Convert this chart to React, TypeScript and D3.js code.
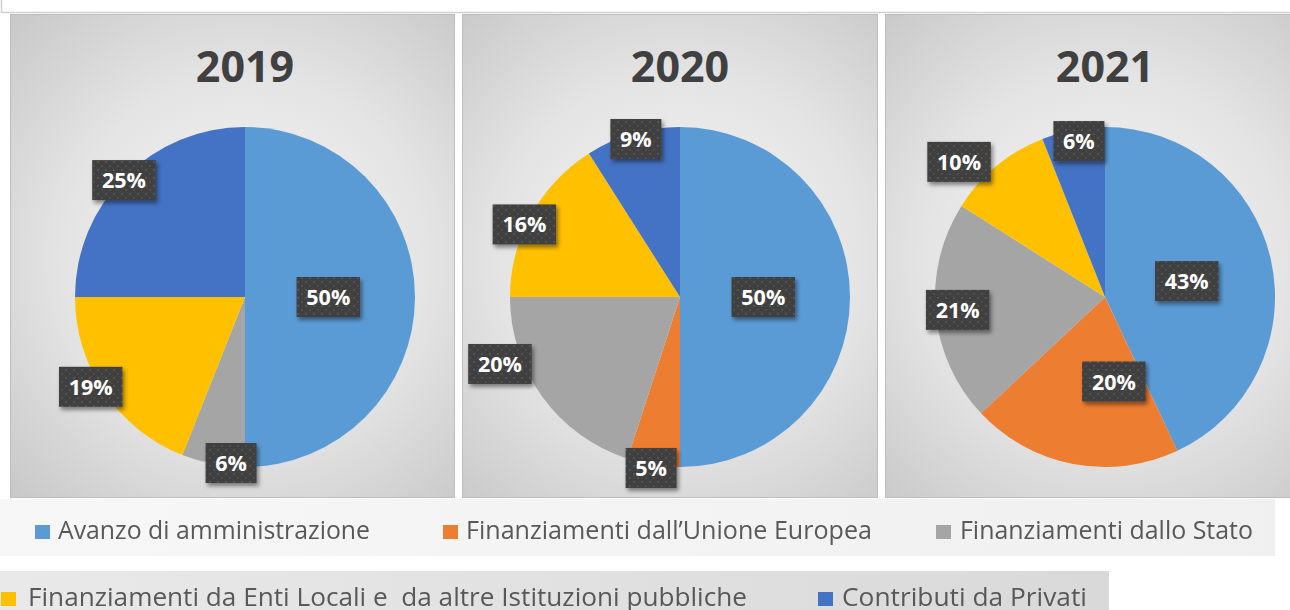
import React from "react";
import * as d3 from "d3";

const CATEGORIES = [
  "Avanzo di amministrazione",
  "Finanziamenti dall’Unione Europea",
  "Finanziamenti dallo Stato",
  "Finanziamenti da Enti Locali e  da altre Istituzioni pubbliche",
  "Contributi da Privati",
];
const COLORS = ["#5B9BD5", "#ED7D31", "#A5A5A5", "#FFC000", "#4472C4"];
const YEARS = ["2019", "2020", "2021"];
const VALUES_2019 = [50, 0, 6, 19, 25];
const VALUES_2020 = [50, 5, 20, 16, 9];
const VALUES_2021 = [43, 20, 21, 10, 6];
const SERIES = [VALUES_2019, VALUES_2020, VALUES_2021];

// layout: [radius factor, angle shift in degrees] for each data label
const LABEL_LAYOUT: [number, number][][] = [
  [[0.49, 0], [1, 0], [0.98, -6], [1.05, 4], [0.99, -1]],
  [[0.49, 0], [1.02, 0.6], [1.13, 15.6], [1.01, -3.8], [0.965, 0.6]],
  [[0.49, 1.6], [0.5, -16.8], [0.87, 0.4], [1.17, -7.6], [0.93, 1.3]],
];

const W = 1290;
const H = 610;
const PANEL_Y = 14;
const PANEL_H = 483;
const PANELS = [
  { x: 10, w: 444, cx: 245 },
  { x: 462, w: 415, cx: 680 },
  { x: 885, w: 410, cx: 1105 },
];
const CY = 297;
const R = 170;

const LEGEND_ROWS = [
  {
    y: 499,
    h: 57,
    w: 1275,
    baseline: 539,
    items: [
      { c: 0, x: 35, tx: 58, tw: 312 },
      { c: 1, x: 443, tx: 466, tw: 406 },
      { c: 2, x: 936, tx: 960, tw: 293 },
    ],
  },
  {
    y: 571,
    h: 45,
    w: 1109,
    baseline: 606,
    items: [
      { c: 3, x: 1, tx: 28, tw: 719 },
      { c: 4, x: 818, tx: 842, tw: 245 },
    ],
  },
];

export default function App() {
  const pie = d3
    .pie<number>()
    .sort(null)
    .value((d) => d)
    .startAngle(0)
    .endAngle(2 * Math.PI);
  const arc = d3.arc<d3.PieArcDatum<number>>().innerRadius(0).outerRadius(R);

  return (
    <div style={{ position: "fixed", left: 0, top: 0, width: W, height: H, background: "#fff" }}>
      <svg width={W} height={H} style={{ display: "block" }}>
        <defs>
          {PANELS.map((p, i) => (
            <radialGradient
              key={i}
              id={`bg${i}`}
              gradientUnits="userSpaceOnUse"
              cx={p.cx}
              cy={CY - 40}
              r={330}
            >
              <stop offset="0" stopColor="#f6f6f6" />
              <stop offset="0.55" stopColor="#e4e4e4" />
              <stop offset="1" stopColor="#c9c9c9" />
            </radialGradient>
          ))}
          <linearGradient id="leg1" x1="0" x2="1" y1="0" y2="0">
            <stop offset="0" stopColor="#f7f7f7" />
            <stop offset="1" stopColor="#f0f0f0" />
          </linearGradient>
          <linearGradient id="leg2" x1="0" x2="1" y1="0" y2="0">
            <stop offset="0" stopColor="#e9e9e9" />
            <stop offset="1" stopColor="#d9d9d9" />
          </linearGradient>
          <pattern id="dots" width="8" height="8" patternUnits="userSpaceOnUse">
            <rect width="8" height="8" fill="#404040" />
            <circle cx="2" cy="2" r="0.9" fill="#5c5c5c" />
            <circle cx="6" cy="6" r="0.9" fill="#555" />
          </pattern>
          <filter id="shadow" x="-30%" y="-30%" width="160%" height="170%">
            <feDropShadow dx="2" dy="3" stdDeviation="2.2" floodColor="#000" floodOpacity="0.45" />
          </filter>
          <filter id="txtblur" x="-5%" y="-20%" width="110%" height="140%">
            <feGaussianBlur stdDeviation="0.35" />
          </filter>
        </defs>

        {/* top frame strip */}
        <rect x={1.5} y={-5} width={W + 10} height={17.5} fill="#fff" stroke="#d0d0d0" strokeWidth={1.5} />

        {PANELS.map((p, i) => {
          const arcs = pie(SERIES[i]);
          return (
            <g key={YEARS[i]}>
              <rect
                x={p.x + 0.5}
                y={PANEL_Y + 0.5}
                width={p.w}
                height={PANEL_H}
                fill={`url(#bg${i})`}
                stroke="#bdbdbd"
                strokeWidth={1}
              />
              <text
                x={p.cx}
                y={82}
                textAnchor="middle"
                fontFamily="'Open Sans', sans-serif"
                fontWeight={700}
                fontSize={43}
                fill="#404040"
              >
                {YEARS[i]}
              </text>
              <g transform={`translate(${p.cx},${CY})`}>
                {arcs.map((a, j) =>
                  a.value > 0 ? <path key={j} d={arc(a) || ""} fill={COLORS[j]} /> : null
                )}
              </g>
              {arcs.map((a, j) => {
                if (a.value <= 0) return null;
                const [f, shift] = LABEL_LAYOUT[i][j];
                const ang = (a.startAngle + a.endAngle) / 2 + (shift * Math.PI) / 180;
                const lx = p.cx + R * f * Math.sin(ang);
                const ly = CY - R * f * Math.cos(ang);
                const label = `${a.value}%`;
                const digits = String(a.value).length;
                const bw = 20 + 12.5 * digits + 18.5;
                const bh = 40;
                return (
                  <g key={`l${j}`}>
                    <rect
                      x={lx - bw / 2}
                      y={ly - bh / 2}
                      width={bw}
                      height={bh}
                      fill="url(#dots)"
                      filter="url(#shadow)"
                    />
                    <text
                      x={lx}
                      y={ly + 8}
                      textAnchor="middle"
                      fontFamily="'Open Sans', sans-serif"
                      fontWeight={700}
                      fontSize={21.5}
                      fill="#fff"
                    >
                      {label}
                    </text>
                  </g>
                );
              })}
            </g>
          );
        })}

        {LEGEND_ROWS.map((row, r) => (
          <g key={r}>
            <rect x={0} y={row.y} width={row.w} height={row.h} fill={`url(#leg${r + 1})`} />
            {row.items.map((it) => (
              <g key={it.c}>
                <rect x={it.x} y={row.baseline - 14} width={15} height={14} fill={COLORS[it.c]} />
                <text
                  x={it.tx}
                  y={row.baseline}
                  fontFamily="'Open Sans', sans-serif"
                  fontSize={25}
                  fill="#595959"
                  filter="url(#txtblur)"
                  textLength={it.tw}
                  lengthAdjust="spacingAndGlyphs"
                  style={{ whiteSpace: "pre" }}
                >
                  {CATEGORIES[it.c]}
                </text>
              </g>
            ))}
          </g>
        ))}
      </svg>
    </div>
  );
}
